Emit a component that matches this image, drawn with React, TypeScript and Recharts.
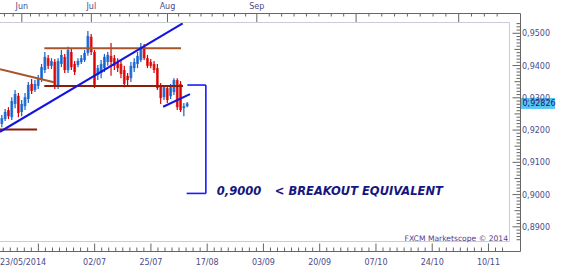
import { Bar, ComposedChart, ReferenceDot, ReferenceLine, XAxis, YAxis } from "recharts"

// daily EUR/CHF-style candles, index 0 = 23/05/2014
const opens = [
  0.9219, 0.9234, 0.9262, 0.924, 0.9281, 0.9306, 0.9256, 0.9274, 0.9296, 0.9343,
  0.9324, 0.9337, 0.9358, 0.9386, 0.9423, 0.9399, 0.9411, 0.9337, 0.9405, 0.9427,
  0.9386, 0.9442, 0.9405, 0.9402, 0.9411, 0.9417, 0.9439, 0.9489, 0.9442, 0.9371,
  0.9377, 0.9392, 0.9411, 0.943, 0.9423, 0.9411, 0.9405, 0.9386, 0.9368, 0.9361,
  0.9392, 0.9405, 0.9417, 0.9458, 0.9423, 0.9411, 0.9405, 0.9392, 0.9337, 0.9302,
  0.933, 0.9305, 0.9318, 0.9355, 0.9343, 0.9268, 0.9274,
]
const highs = [
  0.9247, 0.9265, 0.9271, 0.9302, 0.9324, 0.9315, 0.9293, 0.9315, 0.9349, 0.9358,
  0.9355, 0.9371, 0.9405, 0.9442, 0.9433, 0.9423, 0.942, 0.9423, 0.9448, 0.9436,
  0.9458, 0.9451, 0.9414, 0.9423, 0.9433, 0.9448, 0.9507, 0.9498, 0.9448, 0.9402,
  0.9417, 0.9436, 0.9442, 0.947, 0.9433, 0.9423, 0.9417, 0.9399, 0.9377, 0.9411,
  0.9423, 0.9442, 0.947, 0.9467, 0.9433, 0.942, 0.9414, 0.9405, 0.9346, 0.934,
  0.9337, 0.9343, 0.9361, 0.9361, 0.9352, 0.9284, 0.9287,
]
const lows = [
  0.9209, 0.9228, 0.9234, 0.9231, 0.9268, 0.924, 0.9243, 0.9262, 0.9284, 0.9312,
  0.9318, 0.9327, 0.9349, 0.9377, 0.9389, 0.9389, 0.9327, 0.9327, 0.9395, 0.9377,
  0.9377, 0.9386, 0.9371, 0.9395, 0.9405, 0.9411, 0.943, 0.9433, 0.933, 0.9355,
  0.9361, 0.938, 0.9399, 0.9368, 0.9386, 0.938, 0.9361, 0.9333, 0.9337, 0.9349,
  0.938, 0.9392, 0.9411, 0.9417, 0.9392, 0.9392, 0.9377, 0.9324, 0.9281, 0.9293,
  0.9284, 0.9296, 0.9309, 0.9262, 0.9256, 0.9243, 0.9271,
]
const closes = [
  0.9237, 0.9256, 0.9243, 0.929, 0.9312, 0.9253, 0.9281, 0.9302, 0.934, 0.9321,
  0.9343, 0.9361, 0.9395, 0.9427, 0.9399, 0.9414, 0.9337, 0.9414, 0.9433, 0.9386,
  0.9448, 0.9395, 0.938, 0.9414, 0.9423, 0.9439, 0.9492, 0.9442, 0.934, 0.9392,
  0.9405, 0.9427, 0.9433, 0.9411, 0.9399, 0.9392, 0.9374, 0.9343, 0.9355, 0.9399,
  0.9411, 0.943, 0.9458, 0.9423, 0.9399, 0.9399, 0.9386, 0.933, 0.9299, 0.9333,
  0.9293, 0.9333, 0.9355, 0.9271, 0.9262, 0.9274, 0.92826,
]
const lastPrice = 0.92826

const dateTicks = [11, 28, 45, 62, 79, 96, 113, 130, 147]
const dateLabels = ["", "02/07", "25/07", "17/08", "03/09", "20/09", "07/10", "24/10", "10/11"]
const firstDate = "23/05/2014"
const monthTicks = [6, 27, 50, 77, 107, 138]
const monthLabels = ["Jun", "Jul", "Aug", "Sep", "", ""]

// drawn annotations, [bar index, price]
const darkBrownLines = [
  [[-0.6, 0.9202], [10.6, 0.9202]],
  [[12.8, 0.93365], [54.7, 0.93365]],
]
const brownLines = [
  [[-0.6, 0.93883], [15.7, 0.9348]],
  [[12.8, 0.94535], [54.1, 0.94535]],
]
const blueLines = [
  [[-0.6, 0.91947], [54.6, 0.9531]],
  [[48.7, 0.92723], [56.8, 0.93117]],
]
const bracket = [[56.0, 0.93396], [61.6, 0.93396], [61.6, 0.90036], [55.8, 0.90036]]
const breakoutLevel = "0,9000"
const breakoutText = "< BREAKOUT EQUIVALENT"

const X_DOMAIN = [-0.6, 153.2]
const Y_DOMAIN = [0.8853, 0.9535]
const FONT = "DejaVu Sans"
const LABEL = "#4b4b88"
const AXIS = "#666"

const candles = opens.map((open, i) => ({
  idx: i,
  open,
  high: highs[i],
  low: lows[i],
  close: closes[i],
  range: [lows[i], highs[i]],
}))

const between = (ticks: number[], parts: number, first: number, last: number) => {
  const out: number[] = []
  for (let i = 0; i < ticks.length - 1; i++) {
    const step = (ticks[i + 1] - ticks[i]) / parts
    for (let k = 1; k < parts; k++) out.push(ticks[i] + k * step)
  }
  const s0 = (ticks[1] - ticks[0]) / parts
  for (let v = ticks[0] - s0; v >= first; v -= s0) out.push(v)
  const n = ticks.length
  const s1 = (ticks[n - 1] - ticks[n - 2]) / parts
  for (let v = ticks[n - 1] + s1; v <= last; v += s1) out.push(v)
  return out
}

const bottomTickValues = [0, ...dateTicks, ...between(dateTicks, 8, X_DOMAIN[0], X_DOMAIN[1])]
const topTickValues = [...monthTicks, ...between(monthTicks, 8, X_DOMAIN[0], X_DOMAIN[1])]
const priceTickValues: number[] = []
for (let k = 886; k <= 953; k++) priceTickValues.push(k / 1000)

function Candle(props: any) {
  const { x, y, width, height, payload } = props
  const top = Math.min(y, y + height)
  const bottom = Math.max(y, y + height)
  const { open, close, high, low } = payload
  const span = high - low || 1
  const toY = (v: number) => top + ((high - v) / span) * (bottom - top)
  const up = close >= open
  const cx = x + width / 2
  const bTop = toY(Math.max(open, close))
  const bBot = toY(Math.min(open, close))
  return (
    <g>
      <rect x={cx - 1.4} y={bTop} width={2.8} height={Math.max(1, bBot - bTop)} fill={up ? "#3c82e0" : "#e63a3a"} />
      <line x1={cx} x2={cx} y1={top} y2={bottom} stroke={up ? "#1660c8" : "#d80000"} strokeWidth={1.2} />
    </g>
  )
}

function BottomTick(props: any) {
  const { x, y, payload } = props
  const v = payload.value
  if (v === 0) {
    return (
      <text x={0} y={y + 23} fontFamily={FONT} fontSize={8} fill={LABEL}>
        {firstDate}
      </text>
    )
  }
  const i = dateTicks.indexOf(v)
  const len = i >= 0 ? 8 : 4
  return (
    <g>
      <line x1={x} x2={x} y1={y + 9.5} y2={y + 9.5 - len} stroke={AXIS} />
      {i > 0 && (
        <text x={x} y={y + 23} textAnchor="middle" fontFamily={FONT} fontSize={8} fill={LABEL}>
          {dateLabels[i]}
        </text>
      )}
    </g>
  )
}

function TopTick(props: any) {
  const { x, y, payload } = props
  const i = monthTicks.indexOf(payload.value)
  const len = i >= 0 ? 9 : 3
  return (
    <g>
      <line x1={x} x2={x} y1={y - 8.5} y2={y - 8.5 + len} stroke={AXIS} />
      {i >= 0 && monthLabels[i] && (
        <text x={x} y={y - 13} textAnchor="middle" fontFamily={FONT} fontSize={8} fill={LABEL}>
          {monthLabels[i]}
        </text>
      )}
    </g>
  )
}

function PriceTick(props: any) {
  const { x, y, payload } = props
  const k = Math.round(payload.value * 1000)
  const major = k % 10 === 0
  const len = major ? 8 : k % 5 === 0 ? 6 : 4
  const ax = x + 11.5
  return (
    <g>
      <line x1={ax - len} x2={ax} y1={y} y2={y} stroke={AXIS} />
      {major && (
        <text x={ax + 1.5} y={y + 3} fontFamily={FONT} fontSize={8} fill={LABEL}>
          {payload.value.toFixed(4).replace(".", ",")}
        </text>
      )}
    </g>
  )
}

const seg = (a: number[], b: number[]) => [
  { x: a[0], y: a[1] },
  { x: b[0], y: b[1] },
]

export default function App() {
  return (
    <div style={{ position: "absolute", left: 0, top: 0, width: 561, height: 270, background: "#fff" }}>
      <ComposedChart width={561} height={270} data={candles} margin={{ top: 0, right: 0, bottom: 0, left: 0 }}>
        <XAxis
          dataKey="idx"
          type="number"
          domain={X_DOMAIN}
          allowDataOverflow
          ticks={bottomTickValues}
          interval={0}
          height={28}
          axisLine={false}
          tickLine={false}
          tickSize={0}
          tickMargin={0}
          tick={<BottomTick />}
        />
        <XAxis
          xAxisId="top"
          orientation="top"
          dataKey="idx"
          type="number"
          domain={X_DOMAIN}
          allowDataOverflow
          ticks={topTickValues}
          interval={0}
          height={22}
          axisLine={false}
          tickLine={false}
          tickSize={0}
          tickMargin={0}
          tick={<TopTick />}
        />
        <YAxis
          orientation="right"
          type="number"
          domain={Y_DOMAIN}
          allowDataOverflow
          ticks={priceTickValues}
          interval={0}
          width={52}
          axisLine={false}
          tickLine={false}
          tickSize={0}
          tickMargin={0}
          tick={<PriceTick />}
        />
        <Bar dataKey="range" barSize={3} shape={(p: any) => <Candle {...p} />} isAnimationActive={false} />
        {darkBrownLines.map((l, i) => (
          <ReferenceLine key={`d${i}`} segment={seg(l[0], l[1])} stroke="#8a1e0a" strokeWidth={2} ifOverflow="hidden" />
        ))}
        {brownLines.map((l, i) => (
          <ReferenceLine key={`b${i}`} segment={seg(l[0], l[1])} stroke="#a8552c" strokeWidth={2} ifOverflow="hidden" />
        ))}
        {blueLines.map((l, i) => (
          <ReferenceLine key={`t${i}`} segment={seg(l[0], l[1])} stroke="#1414e0" strokeWidth={2} ifOverflow="hidden" />
        ))}
        {bracket.slice(1).map((p, i) => (
          <ReferenceLine key={`k${i}`} segment={seg(bracket[i], p)} stroke="#1a1aff" strokeWidth={1.6} ifOverflow="visible" />
        ))}
        <ReferenceDot
          x={bracket[2][0]}
          y={bracket[2][1]}
          r={1}
          fill="none"
          stroke="none"
          ifOverflow="visible"
          label={(lp: any) => {
            const vb = lp.viewBox
            const cx = vb.x + vb.width / 2
            const cy = vb.y + vb.height / 2
            const st = { fontFamily: FONT, fontSize: 11.5, fontWeight: 700, fontStyle: "italic" as const }
            return (
              <g>
                <text x={cx + 11} y={cy + 2} fill="#161680" style={st}>
                  {breakoutLevel}
                </text>
                <text x={cx + 69} y={cy + 2} fill="#161680" style={st}>
                  {breakoutText}
                </text>
              </g>
            )
          }}
        />
        <ReferenceLine
          y={lastPrice}
          stroke="none"
          ifOverflow="visible"
          label={(lp: any) => {
            const vb = lp.viewBox
            const x0 = vb.x + vb.width + 12
            return (
              <g>
                <rect x={x0} y={vb.y - 5.5} width={34} height={11} fill="#55c6f5" />
                <text x={x0 + 1.5} y={vb.y + 3} fontFamily={FONT} fontSize={8} fill="#1a1a60">
                  {lastPrice.toFixed(5).replace(".", ",")}
                </text>
              </g>
            )
          }}
        />
      </ComposedChart>
      <svg width={561} height={270} style={{ position: "absolute", left: 0, top: 0, pointerEvents: "none" }}>
        <path d="M0 22.5H509.5V241.5H0" fill="none" stroke="#c9cdd8" />
        <path d="M0 13.5H520.5V251.5H0" fill="none" stroke={AXIS} />
        <text x={508} y={241} textAnchor="end" fontFamily={FONT} fontSize={7.6} fill="#553b88">
          FXCM Marketscope © 2014
        </text>
      </svg>
    </div>
  )
}
